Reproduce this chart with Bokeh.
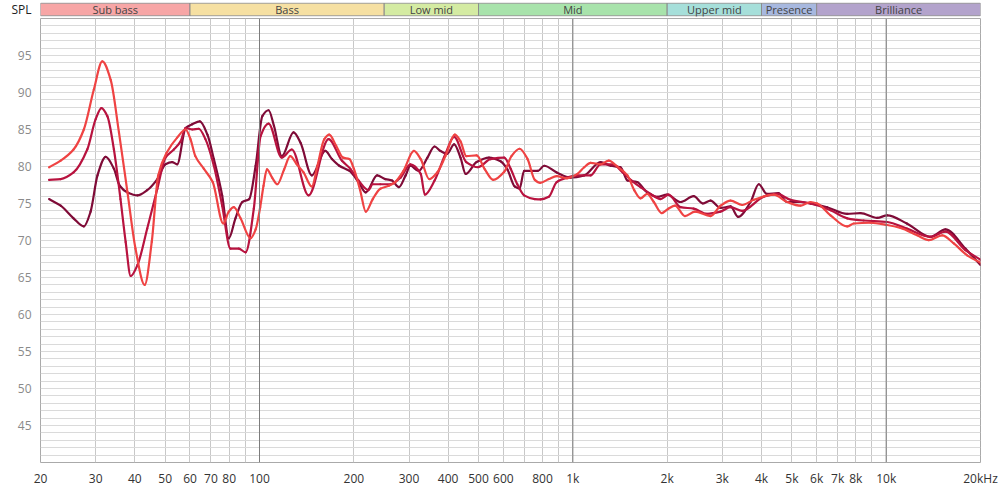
from bokeh.plotting import figure
from bokeh.models import Range1d, FixedTicker, Span
from bokeh.layouts import column
from bokeh.embed import file_html
from bokeh.resources import INLINE
from bokeh.core.properties import value
import math

FONT = "Open Sans"

# ---------------- data ----------------
band_names = ["Sub bass", "Bass", "Low mid", "Mid", "Upper mid", "Presence", "Brilliance"]
band_lo = [20, 60, 250, 500, 2000, 4000, 6000]
band_hi = [60, 250, 500, 2000, 4000, 6000, 20000]
band_colors = ["#f7a6a6", "#f6e0a2", "#d4eba2", "#a8e3ab", "#a6dfda", "#a7b8df", "#b3a3cc"]

y_ticks = [45, 50, 55, 60, 65, 70, 75, 80, 85, 90, 95]
x_tick_values = [20, 30, 40, 50, 60, 70, 80, 100, 200, 300, 400, 500, 600, 800,
                 1000, 2000, 3000, 4000, 5000, 6000, 7000, 8000, 10000, 20000]
x_tick_labels = ["20", "30", "40", "50", "60", "70", "80", "100", "200", "300", "400", "500", "600", "800",
                 "1k", "2k", "3k", "4k", "5k", "6k", "7k", "8k", "10k", "20kHz"]
x_grid_values = [20, 30, 40, 50, 60, 70, 80, 90, 100, 200, 300, 400, 500, 600, 700, 800, 900,
                 1000, 2000, 3000, 4000, 5000, 6000, 7000, 8000, 9000, 10000, 20000]
decade_lines = [100, 1000, 10000]

# bright red curve
r_freq = [21.3, 23.2, 25.5, 27.5, 29.6, 31.5, 33.5, 35.6, 37.9, 40.2,
          43.0, 45.3, 47.5, 50.6, 54.6, 58.1, 60.2, 62.4, 66.4, 70.9,
          76.6, 79.8, 82.8, 87.0, 93.6, 97.2, 100.5, 103, 105.6, 109.7,
          114, 119.8, 125.3, 131.5, 138.2, 146.9, 153.1, 161.0, 166.9, 175.6,
          184.6, 193.6, 200, 209.5, 218.4, 229.8, 243, 258.7, 271, 288,
          311, 327, 348, 369, 392, 420, 438, 457, 493, 524,
          557, 604, 637, 676, 717, 756, 787, 838, 888, 958,
          1034, 1087, 1139, 1226, 1302, 1385, 1494, 1570, 1644, 1726,
          1813, 1922, 2018, 2120, 2280, 2455, 2750, 2960, 3186, 3471,
          3781, 4379, 4832, 5328, 5734, 6023, 6642, 7509, 7882, 8911,
          10075, 11109, 12560, 13677, 15093, 16436, 18136, 20000]
r_spl = [79.9, 80.8, 82.3, 85.0, 90.4, 94.2, 91.7, 84.6, 76.5, 68.9,
         64.0, 69.8, 78.8, 81.9, 83.9, 85.0, 83.7, 81.4, 79.7, 77.9,
         72.3, 73.9, 74.5, 73.0, 70.3, 71.5, 74.5, 77.4, 79.6, 78.5,
         77.6, 79.6, 81.4, 80.3, 79.2, 77.3, 80.1, 83.7, 84.3, 82.8,
         81.2, 81.0, 79.7, 76.8, 73.9, 75.6, 77.0, 77.4, 77.9, 79.4,
         82.1, 81.0, 78.3, 79.2, 81.4, 84.3, 83.4, 81.4, 81.5, 79.6,
         78.2, 79.3, 81.4, 82.4, 81.0, 78.2, 77.8, 78.3, 78.7, 78.4,
         79.0, 79.9, 80.5, 80.3, 80.8, 80.0, 78.8, 76.8, 75.7, 76.3,
         75.2, 73.7, 74.3, 74.7, 73.3, 73.9, 73.3, 74.7, 75.4, 74.8,
         75.5, 76.2, 75.2, 74.7, 75.2, 75.0, 73.4, 71.9, 72.3, 72.4,
         72.1, 71.7, 70.7, 70.05, 70.7, 69.6, 68.0, 67.0]

# crimson curve
c_freq = [21.3, 23.2, 25.5, 28.2, 30.0, 31.3, 32.7, 34.3, 36.0, 37.4,
          38.8, 40.8, 43.8, 47.2, 50.1, 53.3, 56.0, 58.1, 61.0, 64.0,
          67.2, 71.5, 76.0, 80.8, 85.9, 90.3, 95.9, 100.8, 106.9, 117.8,
          126.8, 143.4, 166.1, 183.1, 194.8, 207, 222.7, 229.8, 243, 262,
          282, 303, 327, 337, 362, 392, 418, 457, 498, 546,
          604, 633, 665, 699, 756, 789, 838, 888, 958, 1034,
          1139, 1226, 1342, 1442, 1540, 1644, 1770, 1904, 2022, 2206,
          2430, 2680, 2960, 3186, 3471, 4060, 4480, 4950, 5734, 6642,
          7509, 8470, 10075, 11640, 13849, 15460, 17900, 20000]
c_spl = [78.2, 78.3, 79.2, 82.3, 86.4, 87.9, 86.8, 82.3, 75.6, 69.8,
         65.2, 66.7, 71.6, 77.0, 81.2, 82.3, 83.4, 85.2, 85.0, 85.1,
         83.7, 80.1, 74.7, 68.9, 68.9, 68.4, 74.3, 84.1, 85.8, 81.2,
         82.3, 76.1, 83.7, 80.8, 79.7, 78.1, 76.8, 77.6, 77.6, 77.6,
         78.5, 80.3, 79.0, 76.2, 78.1, 81.7, 84.0, 80.6, 79.9, 81.0,
         81.2, 79.7, 77.6, 76.1, 75.6, 75.55, 75.9, 77.9, 78.5, 78.8,
         78.8, 80.3, 80.3, 79.2, 78.1, 77.2, 76.3, 75.6, 76.2, 74.5,
         74.3, 73.6, 73.9, 74.5, 74.0, 75.9, 76.3, 75.5, 75.0, 74.1,
         73.0, 72.7, 72.5, 71.6, 70.5, 71.2, 68.7, 67.4]

# maroon curve
m_freq = [21.3, 23.2, 25.5, 27.5, 28.9, 30.4, 32.3, 34.3, 35.8, 37.9,
          40.8, 43.8, 47.2, 50.1, 52.6, 54.6, 58.1, 61.0, 64.5, 68.2,
          71.5, 76.0, 79.8, 83.8, 88.1, 92.7, 97.2, 102.1, 106.9, 111.2,
          117.8, 128.4, 135.2, 146.9, 162.1, 170.3, 179.7, 193.8, 207, 218.4,
          237.4, 252, 265, 278.5, 292.6, 303, 322, 343.5, 362, 378,
          397, 418, 438, 455, 493, 540, 588, 618, 652, 676,
          699, 773, 810, 888, 983, 1087, 1226, 1319, 1420, 1494,
          1604, 1726, 1860, 1998, 2206, 2430, 2600, 2750, 2960, 3186,
          3370, 3690, 3920, 4160, 4530, 4830, 5328, 5734, 6480, 7509,
          8280, 9370, 10075, 11640, 13849, 15460, 17900, 20000]
m_spl = [75.6, 74.7, 73.0, 71.9, 73.9, 78.8, 81.3, 79.7, 77.4, 76.5,
         76.1, 76.8, 78.3, 80.3, 80.6, 80.3, 85.2, 85.7, 86.1, 84.3,
         81.0, 76.1, 70.3, 73.0, 75.2, 75.6, 80.1, 86.8, 87.6, 85.5,
         81.4, 84.6, 83.2, 78.8, 82.1, 81.0, 80.1, 79.4, 77.9, 76.5,
         78.8, 78.3, 78.1, 77.2, 78.8, 80.1, 79.4, 81.2, 82.7, 82.1,
         81.7, 83.0, 81.2, 79.0, 80.6, 81.2, 80.7, 79.6, 77.3, 77.0,
         79.4, 79.4, 80.1, 79.2, 78.5, 78.8, 80.6, 80.1, 79.9, 78.1,
         77.9, 76.5, 75.9, 76.2, 75.2, 76.0, 75.0, 75.4, 74.4, 74.6,
         73.2, 75.2, 77.6, 76.3, 76.4, 75.2, 75.2, 75.0, 74.5, 73.6,
         73.7, 73.05, 73.4, 72.3, 70.5, 71.5, 68.9, 66.7]

series = [
    (m_freq, m_spl, "#7f0b37"),
    (c_freq, c_spl, "#b8133f"),
    (r_freq, r_spl, "#ef4343"),
]


def smooth_segments(freq, spl):
    """Cubic Hermite (monotone PCHIP slopes) through the data points, in log-frequency
    space, returned as Bezier segment endpoints / control points."""
    lx = [math.log10(f) for f in freq]
    n = len(lx)
    h = [lx[i + 1] - lx[i] for i in range(n - 1)]
    d = [(spl[i + 1] - spl[i]) / h[i] for i in range(n - 1)]
    m = [0.0] * n
    m[0] = d[0]
    m[-1] = d[-1]
    for i in range(1, n - 1):
        if d[i - 1] * d[i] <= 0:
            m[i] = 0.0
        else:
            w1 = 2 * h[i] + h[i - 1]
            w2 = h[i] + 2 * h[i - 1]
            m[i] = (w1 + w2) / (w1 / d[i - 1] + w2 / d[i])
    seg = dict(x0=[], y0=[], x1=[], y1=[], cx0=[], cy0=[], cx1=[], cy1=[])
    for i in range(n - 1):
        seg["x0"].append(freq[i])
        seg["y0"].append(spl[i])
        seg["x1"].append(freq[i + 1])
        seg["y1"].append(spl[i + 1])
        seg["cx0"].append(10 ** (lx[i] + h[i] / 3))
        seg["cy0"].append(spl[i] + m[i] * h[i] / 3)
        seg["cx1"].append(10 ** (lx[i + 1] - h[i] / 3))
        seg["cy1"].append(spl[i + 1] - m[i + 1] * h[i] / 3)
    return seg


# ---------------- band figure ----------------
x_range = Range1d(20, 20000)

b = figure(width=998, height=18, x_axis_type="log", x_range=x_range,
           y_range=Range1d(-0.05, 1.05), x_axis_location=None, y_axis_location="left",
           output_backend="svg", toolbar_location=None,
           min_border_left=40, min_border_right=18, min_border_top=2, min_border_bottom=2)
b.outline_line_color = None
b.grid.visible = False
b.quad(left=band_lo, right=band_hi, bottom=0, top=1, fill_color=band_colors,
       line_color="#8c8c8c", line_width=1)
band_centers = [math.sqrt(lo * hi) for lo, hi in zip(band_lo, band_hi)]
b.text(x=band_centers, y=[0.5] * len(band_names), text=band_names,
       text_font=value(FONT), text_font_size="11px", text_color="#444444",
       text_align="center", text_baseline="middle")
b.yaxis.ticker = FixedTicker(ticks=[0.5])
b.yaxis.major_label_overrides = {0.5: "SPL"}
b.yaxis.major_tick_line_color = None
b.yaxis.minor_tick_line_color = None
b.yaxis.axis_line_color = None
b.yaxis.major_label_standoff = 3
b.yaxis.major_label_text_font = FONT
b.yaxis.major_label_text_font_size = "12px"
b.yaxis.major_label_text_color = "#222222"

# ---------------- main figure ----------------
p = figure(width=998, height=471, x_axis_type="log", x_range=x_range,
           y_range=Range1d(40, 100), output_backend="svg", toolbar_location=None,
           min_border_left=40, min_border_right=18, min_border_top=0, min_border_bottom=23)
p.outline_line_color = "#aaaaaa"

p.xgrid.ticker = FixedTicker(ticks=x_grid_values)
p.xgrid.grid_line_color = "#c8c8c8"
p.ygrid.ticker = FixedTicker(ticks=list(range(41, 100)))
p.ygrid.grid_line_color = "#dadada"

for loc in decade_lines:
    p.add_layout(Span(location=loc, dimension="height", line_color="#7c7c7c", line_width=1))

p.xaxis.ticker = FixedTicker(ticks=x_tick_values)
p.xaxis.major_label_overrides = {v: l for v, l in zip(x_tick_values, x_tick_labels)}
p.xaxis.major_tick_line_color = None
p.xaxis.minor_tick_line_color = None
p.xaxis.axis_line_color = None
p.xaxis.major_label_standoff = 1
p.xaxis.major_label_text_font = FONT
p.xaxis.major_label_text_font_size = "12px"
p.xaxis.major_label_text_color = "#333333"

p.yaxis.ticker = FixedTicker(ticks=y_ticks)
p.yaxis.major_tick_line_color = None
p.yaxis.minor_tick_line_color = None
p.yaxis.axis_line_color = None
p.yaxis.major_label_standoff = 3
p.yaxis.major_label_text_font = FONT
p.yaxis.major_label_text_font_size = "12px"
p.yaxis.major_label_text_color = "#8a8a8a"

for f, s, col in series:
    seg = smooth_segments(f, s)
    p.bezier(x0=seg["x0"], y0=seg["y0"], x1=seg["x1"], y1=seg["y1"],
             cx0=seg["cx0"], cy0=seg["cy0"], cx1=seg["cx1"], cy1=seg["cy1"],
             line_color=col, line_width=2.2, line_cap="round")

layout = column(b, p)
open("out.html", "w").write(file_html(layout, INLINE))
